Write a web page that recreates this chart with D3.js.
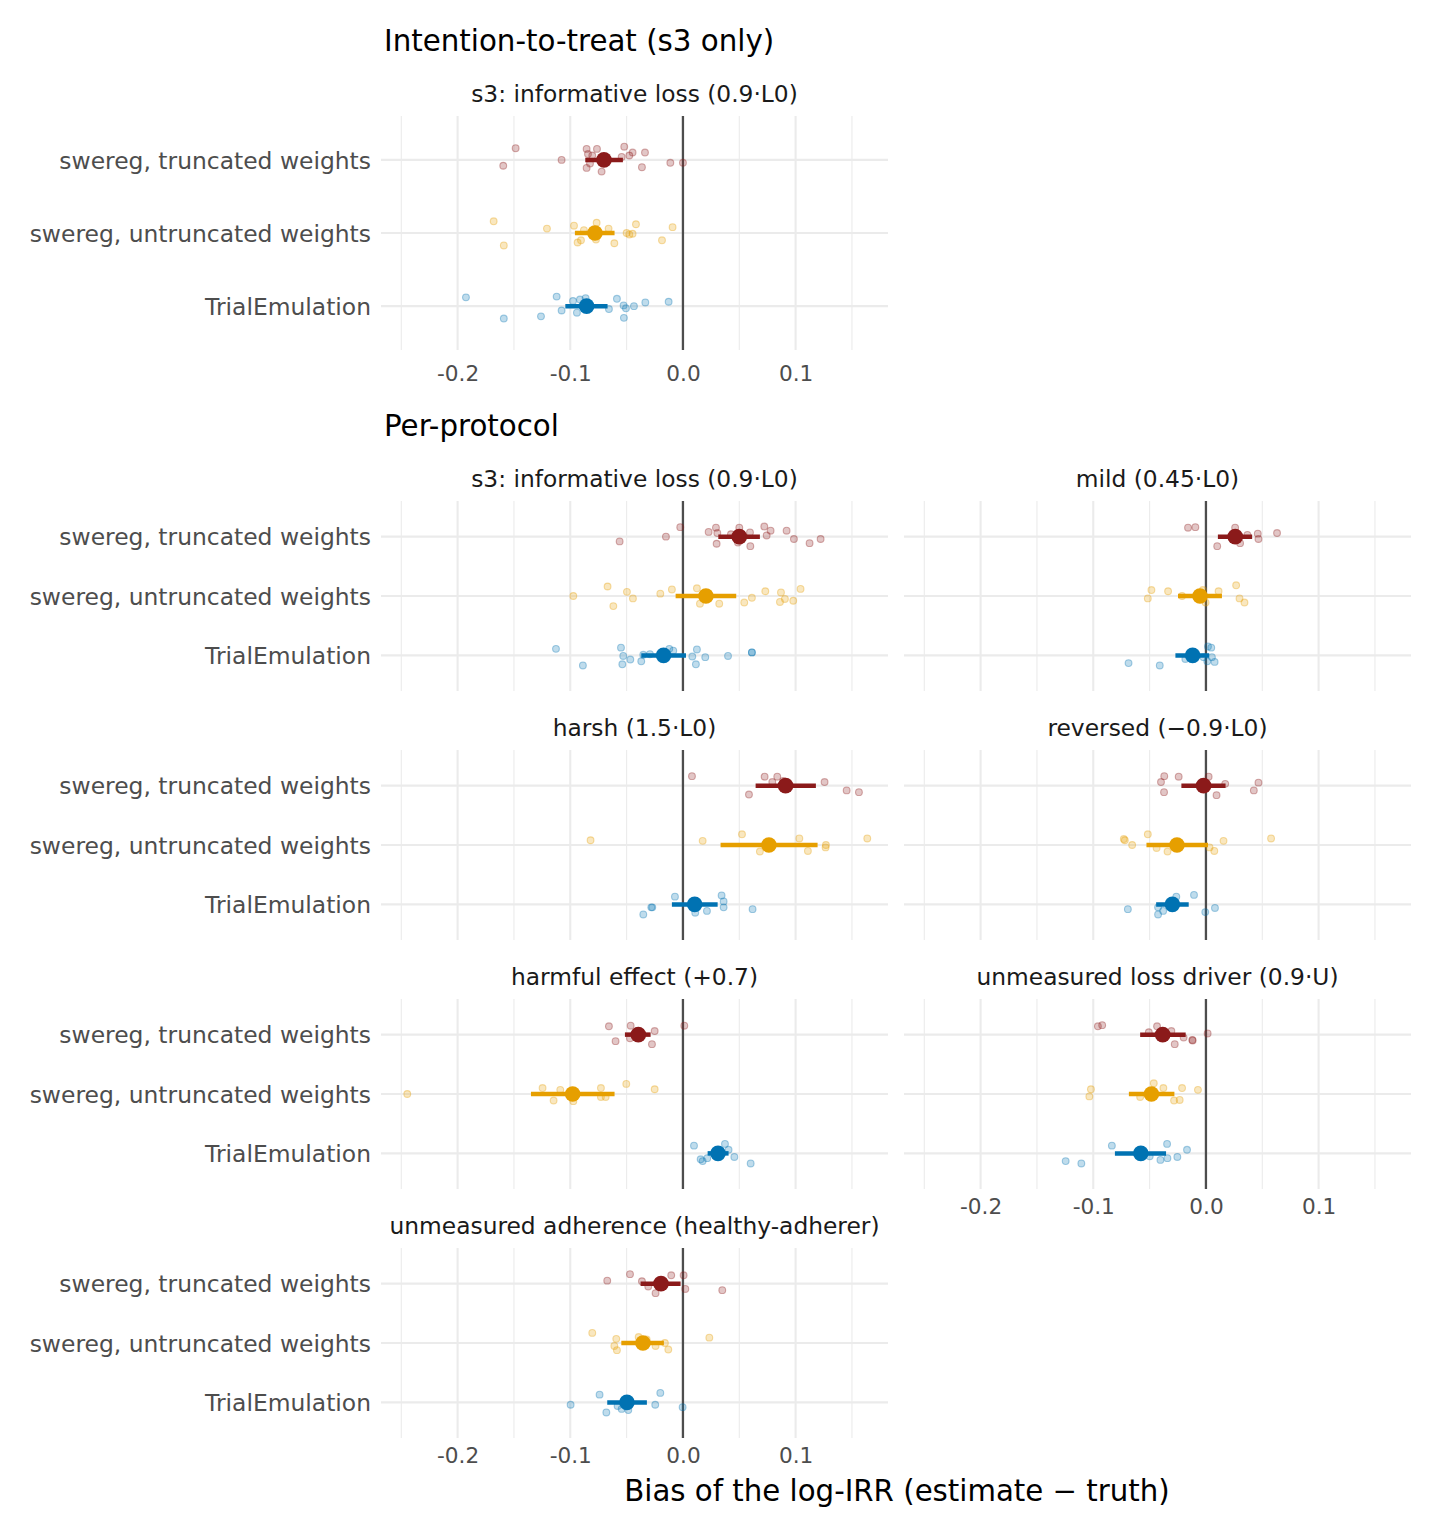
<!DOCTYPE html>
<html><head><meta charset="utf-8">
<script src="https://cdn.jsdelivr.net/npm/d3@7"></script>
<style>
body{margin:0;background:#fff;}
svg{display:block;font-family:"DejaVu Sans",sans-serif;}
</style></head>
<body><svg id="chart" width="1440" height="1536"></svg>
<script>
// ---------------- DATA ----------------
const methods = ["swereg, truncated weights", "swereg, untruncated weights", "TrialEmulation"];
const panelTitles = [
  "s3: informative loss (0.9·L0)",
  "s3: informative loss (0.9·L0)",
  "mild (0.45·L0)",
  "harsh (1.5·L0)",
  "reversed (−0.9·L0)",
  "harmful effect (+0.7)",
  "unmeasured loss driver (0.9·U)",
  "unmeasured adherence (healthy-adherer)"
];
const sectionTitles = ["Intention-to-treat (s3 only)", "Per-protocol"];
const xTitle = "Bias of the log-IRR (estimate − truth)";
const tickValues = [-0.2, -0.1, 0.0, 0.1];
const tickLabels = ["-0.2", "-0.1", "0.0", "0.1"];
const minorValues = [-0.25, -0.15, -0.05, 0.05, 0.15];
const methodColors = ["#8B1A1A", "#E69F00", "#0072B2"];

// summaries per panel: [mean, lower, upper]
const sumTrunc = [
  [-0.0701, -0.0867, -0.0533], [0.050, 0.0314, 0.0683], [0.026, 0.0106, 0.041],
  [0.0911, 0.0645, 0.118], [-0.0021, -0.0218, 0.0174], [-0.0396, -0.0515, -0.0287],
  [-0.0384, -0.0584, -0.018], [-0.0195, -0.0376, -0.0021]
];
const sumUntrunc = [
  [-0.0781, -0.0959, -0.0607], [0.0204, -0.0065, 0.0473], [-0.0053, -0.0248, 0.0142],
  [0.0763, 0.0334, 0.1195], [-0.0257, -0.0528, 0.0018], [-0.0979, -0.1349, -0.0607],
  [-0.0484, -0.0684, -0.028], [-0.0355, -0.0547, -0.0169]
];
const sumTE = [
  [-0.0855, -0.1044, -0.0669], [-0.0172, -0.037, 0.0027], [-0.0118, -0.0271, 0.0029],
  [0.0104, -0.0098, 0.0308], [-0.0298, -0.0442, -0.0153], [0.0311, 0.0219, 0.0405],
  [-0.0578, -0.0808, -0.0354], [-0.0497, -0.0672, -0.032]
];

// replicate estimates per panel: [bias, vertical jitter (category units)]
const repTrunc = [
  [[-0.1485,-0.16],[-0.1595,0.08],[-0.1077,0],[-0.0855,-0.15],[-0.0763,-0.15],[-0.0843,-0.08],[-0.0805,-0.06],[-0.0855,0.11],[-0.0825,0.05],[-0.0722,0.16],[-0.0521,-0.18],[-0.0544,-0.04],[-0.0476,-0.06],[-0.0447,-0.10],[-0.0337,-0.10],[-0.0364,0.10],[-0.0112,0.04],[0.0,0.04]],
  [[-0.0562,0.08],[-0.0151,0],[-0.0024,-0.16],[0.0228,-0.08],[0.0293,-0.15],[0.0305,-0.06],[0.0299,0.12],[0.0426,-0.04],[0.05,-0.15],[0.0488,0.10],[0.0595,-0.07],[0.0598,0.16],[0.0722,-0.17],[0.0778,-0.10],[0.0743,-0.02],[0.092,-0.10],[0.0985,0.04],[0.1124,0.11],[0.1222,0.04]],
  [[-0.0159,-0.15],[-0.0094,-0.16],[0.01,0.16],[0.0259,-0.15],[0.0303,0.11],[0.0368,-0.03],[0.046,-0.05],[0.0466,0.04],[0.0631,-0.06]],
  [[0.008,-0.16],[0.0586,0.15],[0.0725,-0.15],[0.0837,-0.15],[0.0793,-0.06],[0.089,-0.08],[0.1257,-0.06],[0.1453,0.08],[0.1562,0.11]],
  [[-0.037,-0.16],[-0.0399,-0.06],[-0.0372,0.11],[-0.0242,-0.15],[0.0024,-0.15],[0.0171,-0.03],[0.0094,0.16],[0.0466,-0.05],[0.0425,0.08]],
  [[-0.0657,-0.14],[-0.0598,0.11],[-0.0464,-0.15],[-0.047,0.06],[-0.0251,-0.06],[-0.0275,0.16],[0.0012,-0.15]],
  [[-0.0959,-0.14],[-0.0921,-0.16],[-0.0507,-0.04],[-0.0434,-0.14],[-0.0307,-0.06],[-0.0277,0.16],[-0.0198,0.05],[-0.0121,0.09],[-0.0118,0.10],[0.0015,-0.02]],
  [[-0.0672,-0.05],[-0.047,-0.16],[-0.0364,-0.04],[-0.0308,0.05],[-0.0243,0.16],[-0.0104,-0.14],[0.0006,-0.14],[0.0021,0.09],[0.0349,0.11]]
];
const repUntrunc = [
  [[-0.168,-0.16],[-0.159,0.17],[-0.1207,-0.06],[-0.0967,-0.10],[-0.0879,-0.04],[-0.0766,-0.14],[-0.066,-0.06],[-0.0935,0.13],[-0.0905,0.10],[-0.0772,0.09],[-0.0609,0.14],[-0.05,0],[-0.0476,0.02],[-0.0447,0.01],[-0.0417,-0.12],[-0.0186,0.10],[-0.0092,-0.08]],
  [[-0.0973,0],[-0.0669,-0.16],[-0.0618,0.17],[-0.0497,-0.07],[-0.0444,0.04],[-0.0201,-0.04],[-0.0098,-0.11],[0.0124,-0.13],[0.0151,0.13],[0.0322,0.13],[0.0544,0.11],[0.0612,0.03],[0.0731,-0.08],[0.087,-0.06],[0.0905,0.05],[0.0861,0.10],[0.0979,0.08],[0.1044,-0.12]],
  [[-0.0516,0.04],[-0.0484,-0.10],[-0.0336,-0.08],[-0.0212,0],[-0.0027,-0.10],[-0.0003,0.11],[0.0112,-0.08],[0.0268,-0.18],[0.0298,0.04],[0.0342,0.11]],
  [[-0.082,-0.08],[0.0175,-0.07],[0.0524,-0.18],[0.0683,0.11],[0.1033,-0.11],[0.1109,0.10],[0.1269,0],[0.1266,0.04],[0.1636,-0.11]],
  [[-0.0729,-0.10],[-0.072,-0.08],[-0.0655,0],[-0.0516,-0.18],[-0.0438,0.05],[-0.0341,0.11],[0.0032,0.04],[0.0074,0.10],[0.0156,-0.07],[0.0578,-0.11]],
  [[-0.2447,0],[-0.1246,-0.10],[-0.1148,0.11],[-0.1089,-0.07],[-0.0973,0.12],[-0.0728,-0.10],[-0.0728,0.05],[-0.0686,0.05],[-0.0503,-0.17],[-0.0251,-0.08]],
  [[-0.1021,-0.08],[-0.1035,0.04],[-0.0584,0.05],[-0.0463,-0.18],[-0.0378,-0.10],[-0.0212,-0.10],[-0.0283,0.11],[-0.0233,0.10],[-0.0071,-0.07]],
  [[-0.0805,-0.17],[-0.0592,-0.07],[-0.0609,0.05],[-0.0586,0.12],[-0.0393,-0.10],[-0.0322,-0.06],[-0.0243,0.05],[-0.016,0],[-0.013,0.11],[0.0234,-0.09]]
];
const repTE = [
  [[-0.1926,-0.12],[-0.159,0.17],[-0.126,0.14],[-0.1121,-0.13],[-0.1077,0.06],[-0.0976,-0.07],[-0.0914,-0.09],[-0.0864,-0.11],[-0.0941,0.09],[-0.0657,0.04],[-0.0586,-0.10],[-0.0527,-0.01],[-0.0506,0.03],[-0.0435,0],[-0.0334,-0.05],[-0.0127,-0.06],[-0.0524,0.16]],
  [[-0.1127,-0.11],[-0.0888,0.17],[-0.055,-0.13],[-0.053,0.01],[-0.0538,0.15],[-0.0467,0.07],[-0.037,0.10],[-0.0352,-0.01],[-0.0293,-0.02],[-0.0121,-0.11],[-0.0086,-0.08],[0.0083,0.02],[0.0115,0.15],[0.0124,-0.10],[0.0198,0.03],[0.04,0.01],[0.0612,-0.05],[0.0612,-0.05]],
  [[-0.0687,0.13],[-0.041,0.17],[-0.0183,0.06],[0.0018,-0.15],[0.0047,-0.13],[-0.0021,0.03],[0.0053,0.03],[0.0077,0.11],[0.0012,0.10]],
  [[-0.0352,0.17],[-0.0281,0.05],[-0.0272,0.05],[-0.0071,-0.13],[0.0109,0.14],[0.0213,0.11],[0.0343,-0.15],[0.0361,-0.05],[0.0361,0.05],[0.0618,0.08]],
  [[-0.0693,0.08],[-0.0425,0.17],[-0.0425,0.05],[-0.038,0.11],[-0.0263,-0.13],[-0.0106,-0.16],[-0.0006,0.13],[0.008,0.06]],
  [[0.0098,-0.13],[0.0157,0.10],[0.0175,0.13],[0.0216,0.08],[0.0373,-0.16],[0.0405,-0.06],[0.0456,0.06],[0.0601,0.17]],
  [[-0.1245,0.13],[-0.1106,0.17],[-0.0835,-0.13],[-0.0499,0.05],[-0.0404,0.11],[-0.0342,0.08],[-0.0345,-0.16],[-0.0254,0.06],[-0.0168,-0.06]],
  [[-0.0997,0.04],[-0.074,-0.13],[-0.068,0.17],[-0.058,0.06],[-0.0544,0.11],[-0.0485,0.13],[-0.0246,0.04],[-0.0201,-0.16],[-0.0003,0.08]]
];

// ---------------- LAYOUT ----------------
const svg = d3.select("#chart");
const PW = 507;
const colX = [381, 904];
const xDomain = [-0.268, 0.182];
const boxes = [
  {x: colX[0], y: 116, h: 234, yAxis: true, xAxis: true, off: 23},
  {x: colX[0], y: 501, h: 190, yAxis: true, xAxis: false},
  {x: colX[1], y: 501, h: 190, yAxis: false, xAxis: false},
  {x: colX[0], y: 750, h: 190, yAxis: true, xAxis: false},
  {x: colX[1], y: 750, h: 190, yAxis: false, xAxis: false},
  {x: colX[0], y: 999, h: 190, yAxis: true, xAxis: false},
  {x: colX[1], y: 999, h: 190, yAxis: false, xAxis: true, off: 17},
  {x: colX[0], y: 1248, h: 190, yAxis: true, xAxis: true, off: 17}
];

const sums = [sumTrunc, sumUntrunc, sumTE];
const reps = [repTrunc, repUntrunc, repTE];
const FS_AXIS = 17.5 * 340 / 254, FS_TICK = 17.5 * 42 / 34, FS_STRIP = 17.5 * 327 / 245, FS_TITLE = 29.3;
const FS_XTITLE = 22 * 545 / 410;

svg.append("text").attr("x", 384).attr("y", 51).attr("font-size", FS_TITLE).attr("fill", "#000").text(sectionTitles[0]);
svg.append("text").attr("x", 384).attr("y", 436).attr("font-size", FS_TITLE).attr("fill", "#000").text(sectionTitles[1]);

boxes.forEach((b, pi) => {
  const g = svg.append("g");
  const x = d3.scaleLinear().domain(xDomain).range([b.x, b.x + PW]);
  const y = d3.scalePoint().domain(methods).range([b.y, b.y + b.h]).padding(0.6);
  const step = y.step();

  g.selectAll(".minor").data(minorValues).join("line")
    .attr("x1", d => x(d)).attr("x2", d => x(d))
    .attr("y1", b.y).attr("y2", b.y + b.h)
    .attr("stroke", "#ebebeb").attr("stroke-width", 1.1);
  g.selectAll(".major").data(tickValues).join("line")
    .attr("x1", d => x(d)).attr("x2", d => x(d))
    .attr("y1", b.y).attr("y2", b.y + b.h)
    .attr("stroke", "#ebebeb").attr("stroke-width", 2.1);
  g.selectAll(".hmaj").data(methods).join("line")
    .attr("x1", b.x).attr("x2", b.x + PW)
    .attr("y1", d => y(d)).attr("y2", d => y(d))
    .attr("stroke", "#ebebeb").attr("stroke-width", 2.1);

  g.append("line").attr("x1", x(0)).attr("x2", x(0)).attr("y1", b.y).attr("y2", b.y + b.h)
    .attr("stroke", "#4d4d4d").attr("stroke-width", 2.3);

  svg.append("text").attr("x", b.x + PW / 2).attr("y", b.y - 21)
    .attr("text-anchor", "middle").attr("dominant-baseline", "middle")
    .attr("font-size", FS_STRIP).attr("fill", "#1a1a1a").text(panelTitles[pi]);

  methods.forEach((m, mi) => {
    const col = methodColors[mi];
    g.selectAll(".rep" + mi).data(reps[mi][pi]).join("circle")
      .attr("cx", d => x(d[0])).attr("cy", d => y(m) + d[1] * step)
      .attr("r", 3.4).attr("fill", col).attr("fill-opacity", 0.25)
      .attr("stroke", col).attr("stroke-opacity", 0.35).attr("stroke-width", 1.1);
  });
  methods.forEach((m, mi) => {
    const col = methodColors[mi];
    const s = sums[mi][pi];
    g.append("line").attr("x1", x(s[1])).attr("x2", x(s[2]))
      .attr("y1", y(m)).attr("y2", y(m)).attr("stroke", col).attr("stroke-width", 4.5);
    g.append("circle").attr("cx", x(s[0])).attr("cy", y(m)).attr("r", 7.8).attr("fill", col);
  });

  if (b.yAxis) {
    const ya = svg.append("g").attr("transform", `translate(${b.x - 10},0)`)
      .call(d3.axisLeft(y).tickSize(0).tickPadding(0));
    ya.select(".domain").remove();
    ya.selectAll("text").attr("font-size", FS_AXIS).attr("fill", "#4d4d4d")
      .attr("font-family", "DejaVu Sans").attr("dy", "0.35em");
  }
  if (b.xAxis) {
    const xa = svg.append("g").attr("transform", `translate(0,${b.y + b.h + b.off})`)
      .call(d3.axisBottom(x).tickValues(tickValues).tickFormat((d, i) => tickLabels[i]).tickSize(0).tickPadding(0));
    xa.select(".domain").remove();
    xa.selectAll("text").attr("font-size", FS_TICK).attr("fill", "#4d4d4d")
      .attr("font-family", "DejaVu Sans").attr("dy", "0.35em");
  }
});

svg.append("text").attr("x", 897).attr("y", 1492).attr("text-anchor", "middle")
  .attr("dominant-baseline", "middle").attr("font-size", FS_XTITLE).attr("fill", "#000").text(xTitle);
</script></body></html>
